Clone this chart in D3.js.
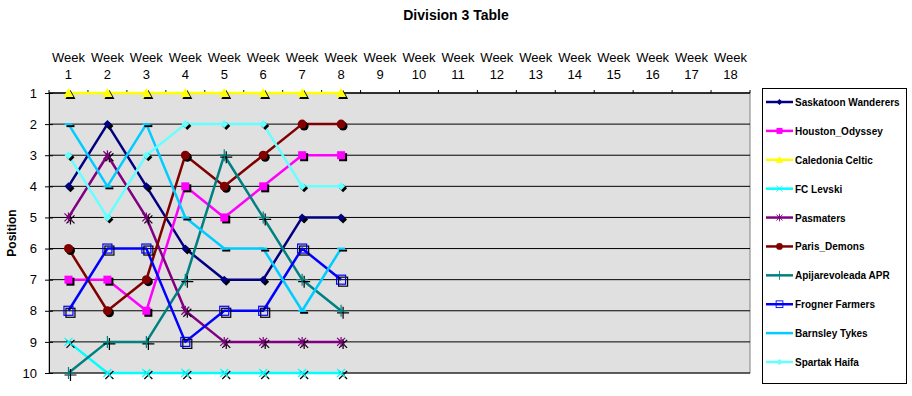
<!DOCTYPE html>
<html lang="en">
<head>
<meta charset="UTF-8">
<title>Division 3 Table</title>
<style>
  body { margin: 0; background: #fff; }
  svg { font-family: Arial, "Liberation Sans", sans-serif; }
</style>
</head>
<body>
<div id="chart"></div>
<script src="https://d3js.org/d3.v7.min.js"></script>
<script>
// weeks on the top axis
const weeks = d3.range(1, 19);
const positions = d3.range(1, 11);

const teams = ["Saskatoon Wanderers", "Houston_Odyssey", "Caledonia Celtic", "FC Levski", "Pasmaters",
  "Paris_Demons", "Apijarevoleada APR", "Frogner Farmers", "Barnsley Tykes", "Spartak Haifa"];

// league position per week (weeks 1-8 played)
const saskatoon = [4, 2, 4, 6, 7, 7, 5, 5];
const houston = [7, 7, 8, 4, 5, 4, 3, 3];
const caledonia = [1, 1, 1, 1, 1, 1, 1, 1];
const levski = [9, 10, 10, 10, 10, 10, 10, 10];
const pasmaters = [5, 3, 5, 8, 9, 9, 9, 9];
const paris = [6, 8, 7, 3, 4, 3, 2, 2];
const apijar = [10, 9, 9, 7, 3, 5, 7, 8];
const frogner = [8, 6, 6, 9, 8, 8, 6, 7];
const barnsley = [2, 4, 2, 5, 6, 6, 8, 6];
const spartak = [3, 5, 3, 2, 2, 2, 4, 4];

const seriesValues = [saskatoon, houston, caledonia, levski, pasmaters, paris, apijar, frogner, barnsley, spartak];
const colors = ["#000080", "#ff00ff", "#ffff00", "#00ffff", "#800080", "#800000", "#008080", "#0000ff", "#00ccff", "#66ffff"];
const markers = ["diamond", "square", "triangle", "x", "star", "circle", "plus", "opensquare", "dash", "diamond"];

const W = 912, H = 396;
const plot = { left: 49, right: 750, top: 93, bottom: 373 };

const svg = d3.select("#chart").append("svg").attr("width", W).attr("height", H);

const x = d3.scaleBand().domain(weeks).range([plot.left, plot.right]);
const y = d3.scaleLinear().domain([1, 10]).range([plot.top, plot.bottom]);

// title
svg.append("text").attr("x", 456).attr("y", 20).attr("text-anchor", "middle")
  .attr("font-size", 14).attr("font-weight", "bold").text("Division 3 Table");

// plot background
svg.append("rect").attr("x", plot.left).attr("y", plot.top)
  .attr("width", plot.right - plot.left).attr("height", plot.bottom - plot.top)
  .attr("fill", "#e0e0e0").attr("stroke", "#808080");

// gridlines
svg.append("g").selectAll("line").data(positions).join("line")
  .attr("x1", plot.left).attr("x2", plot.right)
  .attr("y1", d => y(d)).attr("y2", d => y(d))
  .attr("stroke", "#000");

// top axis
const topAxis = svg.append("g").attr("transform", `translate(0,${plot.top})`);
topAxis.append("line").attr("x1", plot.left).attr("x2", plot.right).attr("stroke", "#000");
topAxis.selectAll(".tk").data(d3.range(0, 19)).join("line")
  .attr("x1", d => plot.left + d * x.bandwidth()).attr("x2", d => plot.left + d * x.bandwidth())
  .attr("y1", -3).attr("y2", 0).attr("stroke", "#000");
const wl = topAxis.selectAll(".wl").data(weeks).join("text")
  .attr("text-anchor", "middle").attr("font-size", 13);
wl.append("tspan").attr("x", d => x(d) + x.bandwidth() / 2).attr("y", -31).text("Week");
wl.append("tspan").attr("x", d => x(d) + x.bandwidth() / 2).attr("y", -14).text(d => d);

// left axis
const leftAxis = d3.axisLeft(y).tickValues(positions).tickSize(4).tickPadding(8).tickFormat(d3.format("d"));
const la = svg.append("g").attr("transform", `translate(${plot.left},0)`).call(leftAxis);
la.select(".domain").attr("stroke", "#000");
la.selectAll(".tick line").attr("stroke", "#000").attr("x2", 4).attr("x1", -4);
la.selectAll(".tick text").attr("font-size", 13).attr("font-family", "Arial, sans-serif").attr("fill", "#000");

svg.append("text").attr("transform", `translate(16,${(plot.top + plot.bottom) / 2}) rotate(-90)`)
  .attr("text-anchor", "middle").attr("font-size", 12).attr("font-weight", "bold").text("Position");

// marker drawing
function drawMarker(g, type, color, shadow) {
  const fill = shadow ? "#000" : color;
  const stroke = shadow ? "#000" : color;
  switch (type) {
    case "diamond":
      g.append("path").attr("d", "M0,-4L4,0L0,4L-4,0Z").attr("fill", fill); break;
    case "square":
      g.append("rect").attr("x", -4).attr("y", -4).attr("width", 8).attr("height", 8).attr("fill", fill); break;
    case "triangle":
      g.append("path").attr("d", "M0,-5L5,4L-5,4Z").attr("fill", fill); break;
    case "circle":
      g.append("circle").attr("r", 4.5).attr("fill", fill); break;
    case "x":
      g.append("path").attr("d", "M-4,-4L4,4M-4,4L4,-4").attr("stroke", stroke).attr("stroke-width", 1.2); break;
    case "star":
      g.append("path").attr("d", "M-4,-4L4,4M-4,4L4,-4M0,-5L0,5").attr("stroke", stroke).attr("stroke-width", 1.2); break;
    case "plus":
      g.append("path").attr("d", "M-6,0L6,0M0,-6L0,6").attr("stroke", stroke).attr("stroke-width", 1.2); break;
    case "opensquare":
      g.append("rect").attr("x", -4.5).attr("y", -4.5).attr("width", 9).attr("height", 9)
        .attr("fill", "none").attr("stroke", stroke).attr("stroke-width", 1.2);
      break;
    case "dash":
      g.append("path").attr("d", "M-4,0L4,0").attr("stroke", stroke).attr("stroke-width", 2); break;
  }
}

const line = d3.line().x((d, i) => x(weeks[i]) + x.bandwidth() / 2).y(d => y(d));

seriesValues.forEach((vals, s) => {
  const g = svg.append("g");
  g.append("path").datum(vals).attr("d", line).attr("fill", "none")
    .attr("stroke", colors[s]).attr("stroke-width", 2.5).attr("stroke-linejoin", "round");
  vals.forEach((v, i) => {
    const cx = x(weeks[i]) + x.bandwidth() / 2, cy = y(v);
    drawMarker(g.append("g").attr("transform", `translate(${cx + 2},${cy + 2})`), markers[s], colors[s], true);
    drawMarker(g.append("g").attr("transform", `translate(${cx},${cy})`), markers[s], colors[s], false);
  });
});

// legend
const lg = svg.append("g");
lg.append("rect").attr("x", 762.5).attr("y", 88.5).attr("width", 144).attr("height", 295)
  .attr("fill", "#fff").attr("stroke", "#000");
const ly = d3.scalePoint().domain(teams).range([102, 362]);
teams.forEach((t, s) => {
  const yy = ly(t);
  lg.append("line").attr("x1", 766).attr("x2", 793).attr("y1", yy).attr("y2", yy)
    .attr("stroke", colors[s]).attr("stroke-width", 2.5);
  const mg = lg.append("g").attr("transform", `translate(779.5,${yy}) scale(0.75)`);
  if (markers[s] !== "dash") drawMarker(mg, markers[s], colors[s], false);
  lg.append("text").attr("x", 795).attr("y", yy + 4).attr("font-size", 10).attr("font-weight", "bold").text(t);
});
</script>
</body>
</html>
